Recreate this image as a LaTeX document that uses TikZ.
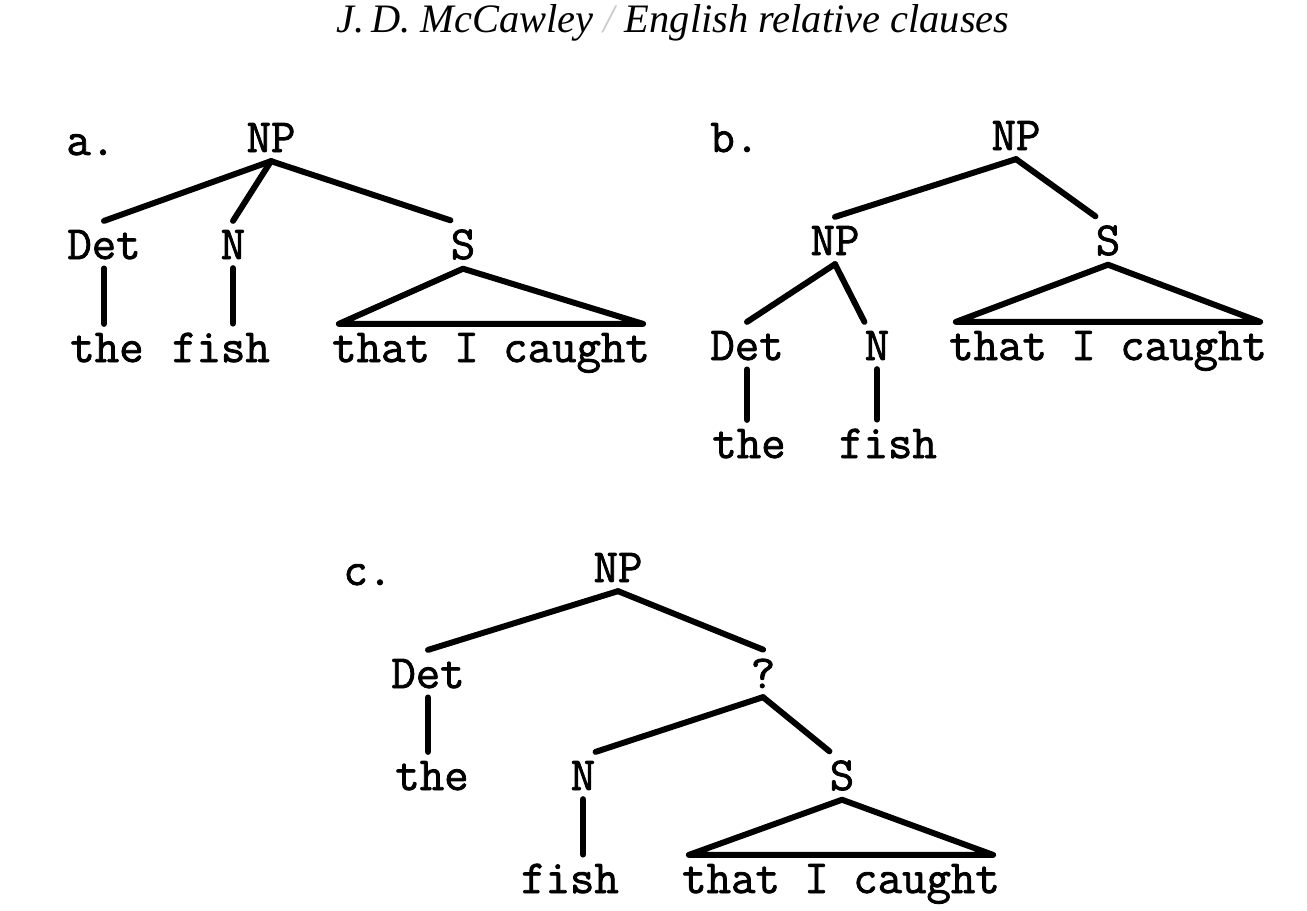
\documentclass[tikz,border=0pt]{standalone}
\usepackage{fontspec}
\usepackage{tikz}
\usetikzlibrary{calc}
\newfontfamily\treefont{Latin Modern Mono}[FakeBold=1.6]
\newfontfamily\headfont{Liberation Serif}

\begin{document}
\begin{tikzpicture}[
  x=0.02cm, y=-0.02cm,
  every node/.style={font=\treefont\fontsize{27}{30}\selectfont, anchor=base, inner xsep=0pt, inner ysep=5pt},
  words/.style={inner xsep=-4pt},
  branch/.style={line width=3.4pt, line cap=round, line join=round}
]
\useasboundingbox (0,0) rectangle (1307,910);
% Running head
\node[font=\headfont\itshape\fontsize{23}{27}\selectfont] (head) at (673,32)
  {J.\,D. McCawley {\color{gray!40}/} English relative clauses};

% Tree a
\node[anchor=base west] (laba) at (66,155) {a.};
\node (npa) at (271,152) {NP};
\node (deta) at (104,259) {Det};
\node (na) at (233,259) {N};
\node (sa) at (463,259) {S};
\node (thea) at (107,362) {the};
\node (fisha) at (221,362) {fish};
\node[words] (capa) at (491,362) {that I caught};
\draw[branch] (npa.south) -- (deta.north);
\draw[branch] (npa.south) -- (na.north);
\draw[branch] (npa.south) -- (sa.north west);
\draw[branch] (deta.south) -- (deta.south |- thea.north);
\draw[branch] (na.south) -- (na.south |- fisha.north);
\draw[branch] (sa.south) -- (capa.north west) -- (capa.north east) -- cycle;

% Tree b
\node[anchor=base west] (labb) at (710,152) {b.};
\node (npb) at (1016,150) {NP};
\node (npsubb) at (835,255) {NP};
\node (sb) at (1108,255) {S};
\node (detb) at (747,360) {Det};
\node (nb) at (877,360) {N};
\node[words] (capb) at (1108,360) {that I caught};
\node (theb) at (749,458) {the};
\node (fishb) at (888,458) {fish};
\draw[branch] (npb.south) -- (npsubb.north);
\draw[branch] (npb.south) -- (sb.north west);
\draw[branch] (npsubb.south) -- (detb.north);
\draw[branch] (npsubb.south) -- (nb.north west);
\draw[branch] (detb.south) -- (detb.south |- theb.north);
\draw[branch] (nb.south) -- (nb.south |- fishb.north);
\draw[branch] (sb.south) -- (capb.north west) -- (capb.north east) -- cycle;

% Tree c
\node[anchor=base west] (labc) at (343,585) {c.};
\node (npc) at (618,582) {NP};
\node (detc) at (428,688) {Det};
\node (qc) at (763,688) {?};
\node (thec) at (432,790) {the};
\node (nc) at (583,790) {N};
\node (sc) at (842,790) {S};
\node (fishc) at (570,893) {fish};
\node[words] (capc) at (841,893) {that I caught};
\draw[branch] (npc.south) -- (detc.north);
\draw[branch] (npc.south) -- (qc.north);
\draw[branch] (detc.south) -- (detc.south |- thec.north);
\draw[branch] (qc.south) -- (nc.north east);
\draw[branch] (qc.south) -- (sc.north west);
\draw[branch] (nc.south) -- (nc.south |- fishc.north);
\draw[branch] (sc.south) -- (capc.north west) -- (capc.north east) -- cycle;

\end{tikzpicture}
\end{document}
